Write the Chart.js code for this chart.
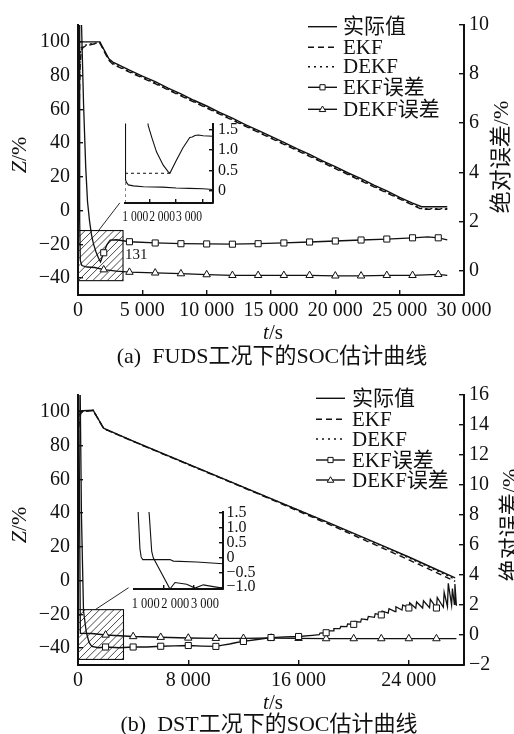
<!DOCTYPE html>
<html><head><meta charset="utf-8">
<script src="https://cdn.jsdelivr.net/npm/chart.js@4.4.1/dist/chart.umd.min.js"></script>
<style>
html,body{margin:0;padding:0;background:#fff;}
#wrap{position:relative;width:514px;height:734px;overflow:hidden;background:#fff;}
canvas{position:absolute;}
</style></head><body>
<div id="wrap">
<canvas id="c1" width="514" height="370" style="left:0;top:0"></canvas>
<canvas id="c2" width="514" height="364" style="left:0;top:370px"></canvas>
<canvas id="i1" width="150" height="125" style="left:100px;top:105px"></canvas>
<canvas id="i2" width="150" height="120" style="left:110px;top:495px"></canvas>
</div>
<script>
// ---------------- DATA: (a) FUDS ----------------
const fudsActualT = [0,1700,2400,2700,3000,4000,5000,6000,7000,8000,9000,10000,11000,12000,13000,14000,15000,16000,17000,18000,19000,20000,21000,22000,23000,24000,25000,26000,26700,28700];
const fudsActualV = [100,100,90,88,86.9,83.3,79.7,76.4,72.6,69.2,65.4,62.0,58.2,54.8,51.0,47.6,44.0,40.5,36.7,33.3,29.5,26.1,22.3,18.9,15.1,11.7,7.9,4.5,2.3,2.3];
const fudsEkfT  = [0,80,160,250,400,700,1100,1700,2400,2700,4000,6000,8000,10000,12000,14000,16000,18000,20000,22000,24000,26000,26700,28700];
const fudsEkfV  = [30,55,85,95,96.8,97.8,98.6,99.3,89,86.8,82.1,75.2,68.0,60.8,53.6,46.4,39.3,32.1,24.9,17.7,10.5,3.3,0.8,0.8];
const fudsDekfV = [40,70,92,96.5,97.5,98.3,99.0,99.6,89.3,87.2,82.5,75.6,68.4,61.2,54.0,46.8,39.7,32.5,25.3,18.1,10.9,3.7,1.2,1.2];
const fudsEkfErrT = [0,250,430,600,740,900,1050,1200,1400,1600,1750,2000,2250,2500,3000,4000,6000,8000,10000,12000,14000,16000,18000,20000,22000,24000,26000,27200,28000,28700];
const fudsEkfErrV = [60,10.5,6.8,4.2,2.8,2.0,1.45,1.08,0.75,0.5,0.35,0.72,1.05,1.24,1.25,1.17,1.12,1.09,1.08,1.07,1.09,1.12,1.16,1.2,1.24,1.28,1.33,1.37,1.33,1.25];
const fudsDekfErrT = [0,80,130,180,300,700,1300,2000,3000,4000,6000,8000,10000,12000,14000,16000,18000,20000,22000,24000,26000,28000,28700];
const fudsDekfErrV = [40,10.5,2,0.4,0.2,0.14,0.12,0.03,-0.03,-0.07,-0.1,-0.13,-0.17,-0.2,-0.2,-0.2,-0.2,-0.22,-0.22,-0.2,-0.2,-0.16,-0.2];
const fudsMarkT = [2000,4000,6000,8000,10000,12000,14000,16000,18000,20000,22000,24000,26000,28000];
const fudsXTicks = [0,5000,10000,15000,20000,25000,30000];
const fudsRTicks = [0,2,4,6,8,10];
// inset (a)
const insAEkfT = [900,963,1100,1274,1520,1700,1767,2000,2250,2507,2600,2700,2830,3000,3370];
const insAEkfV = [2.0,1.6,1.3,0.95,0.63,0.47,0.43,0.74,1.05,1.31,1.32,1.36,1.37,1.35,1.34];
const insADekfT = [100,112,126,160,226,411,781,1500,2000,2500,3000,3370];
const insADekfV = [1.7,0.6,0.27,0.2,0.145,0.12,0.1,0.09,0.07,0.06,0.05,0.03];
const insAGuideT = [100,1767];
const insAGuideV = [0.43,0.43];
const insAGuide2T = [100,100];
const insAGuide2V = [-0.3,0.25];
const insAXTicks = [1000,2000,3000];
const insAYTicks = [0,0.5,1.0,1.5];
const insAYLabels = ['0','0.5','1.0','1.5'];

// ---------------- DATA: (b) DST ----------------
const dstActualT = [0,1100,1860,2000,4000,6000,8000,10000,12000,14000,16000,18000,20000,22000,24000,26000,27360];
const dstActualV = [100.5,101,90.3,89.8,82.7,75.8,69.0,62.2,55.4,48.6,41.8,35.0,28.0,21.0,14.0,6.6,1.6];
const dstEkfT  = [0,100,200,350,1100,1860,2000,4000,6000,8000,10000,12000,14000,16000,18000,20000,22000,24000,26000,27360];
const dstEkfV  = [85,95,99,100.2,100.8,90.1,89.6,82.5,75.6,68.8,62.0,55.1,48.2,41.1,34.1,26.9,19.6,12.3,4.8,-0.4];
const dstDekfV = [92,98,100,100.4,100.9,90.2,89.7,82.6,75.7,68.9,62.1,55.3,48.5,41.6,34.7,27.7,20.6,13.5,6.0,0.8];
const dstEkfErrT = [0,150,250,400,600,800,1000,1500,2000,3000,4000,5000,6000,7000,8000,9000,10000,10500,11000,11500,12000,13000,14000,15000,16000,17000,
  17500,17560,18000,18060,18500,18560,19000,19060,19500,19560,20000,20060,20500,20560,21000,21060,21500,21560,22000,22060,22500,22560,
  23000,23060,23500,23560,24000,24060,24500,24560,25000,25060,25500,25560,26000,26060,26500,26560,26800,26860,27100,27160,27300,27340,27450];
const dstEkfErrV = [30,17,8,1.6,0.2,-0.5,-0.76,-0.85,-0.8,-0.85,-0.8,-0.8,-0.75,-0.72,-0.7,-0.74,-0.76,-0.68,-0.6,-0.5,-0.43,-0.3,-0.17,-0.12,-0.1,-0.02,
  0.03,0.13,0.15,0.27,0.28,0.42,0.42,0.58,0.56,0.74,0.71,0.9,0.86,1.07,1.02,1.24,1.18,1.42,1.34,1.6,1.46,1.75,
  1.56,1.88,1.66,2.0,1.8,2.15,1.78,2.2,1.8,2.28,1.82,2.38,1.8,2.5,1.85,2.85,1.9,3.45,2.0,3.1,2.05,3.4,1.95];
const dstDekfErrT = [0,60,170,1000,2000,4000,6000,8000,10000,12000,14000,16000,18000,20000,22000,24000,26000,27450];
const dstDekfErrV = [40,16,0.11,0.1,0.0,-0.1,-0.15,-0.2,-0.22,-0.22,-0.2,-0.22,-0.24,-0.24,-0.24,-0.24,-0.24,-0.24];
const dstMarkT = [2000,4000,6000,8000,10000,12000,14000,16000,18000,20000,22000,24000,26000];
const dstXTicks = [0,8000,16000,24000];
const dstRTicks = [-2,0,2,4,6,8,10,12,14,16];
// inset (b)
const insBEkfT = [480,516,597,650,1213,1382,1776,2056,2336,2673,2990];
const insBEkfV = [1.8,1.42,0.21,-0.01,-1.06,-0.84,-0.9,-1.03,-0.92,-0.98,-1.03];
const insBDekfT = [130,145,200,240,293,1213,1325,2113,2990];
const insBDekfV = [1.8,1.42,0.3,0.02,-0.07,-0.07,-0.12,-0.15,-0.21];
const insBXTicks = [1000,2000,3000];
const insBYTicks = [-1.0,-0.5,0,0.5,1.0,1.5];
const insBYLabels = ['−1.0','−0.5','0','0.5','1.0','1.5'];

const leftTicks = [-40,-20,0,20,40,60,80,100];
const legendNames = ['实际值','EKF','DEKF','EKF误差','DEKF误差'];

// ---------------- helpers ----------------
const FONT = "'Liberation Serif','Noto Sans CJK SC',serif";
Chart.defaults.font.family = FONT;
Chart.defaults.color = '#111';
Chart.defaults.animation = false;
const INK = '#111';

function pts(T, V){ return T.map((t,i)=>({x:t,y:V[i]})); }
function fmt(v){
  const a = Math.abs(v); let s = String(a);
  if (a >= 1000) s = s.slice(0, s.length-3) + ' ' + s.slice(-3);
  return (v < 0 ? '−' : '') + s;
}
function richText(ctx, segs, cx, cy, rot, size){
  ctx.save();
  ctx.translate(cx, cy); ctx.rotate(rot);
  ctx.textBaseline = 'middle'; ctx.fillStyle = INK;
  let w = 0;
  segs.forEach(s => { ctx.font = (s.it ? 'italic ' : '') + size + 'px ' + FONT; w += ctx.measureText(s.t).width; });
  let x = -w/2;
  segs.forEach(s => { ctx.font = (s.it ? 'italic ' : '') + size + 'px ' + FONT; ctx.textAlign='left'; ctx.fillText(s.t, x, 0); x += ctx.measureText(s.t).width; });
  ctx.restore();
}
function marker(ctx, kind, x, y, r){
  ctx.save(); ctx.setLineDash([]); ctx.fillStyle='#fff'; ctx.strokeStyle=INK; ctx.lineWidth=1;
  ctx.beginPath();
  if (kind === 'rect') ctx.rect(x-r, y-r, 2*r, 2*r);
  else { ctx.moveTo(x, y-r*1.1); ctx.lineTo(x+r*1.1, y+r*0.75); ctx.lineTo(x-r*1.1, y+r*0.75); ctx.closePath(); }
  ctx.fill(); ctx.stroke(); ctx.restore();
}

const decor = {
  id: 'decor',
  beforeDatasetsDraw(chart, args, o){
    const {ctx} = chart; const xs = chart.scales.x, ys = chart.scales.y;
    const b = o.box;
    const x0 = xs.getPixelForValue(b.x0), x1 = xs.getPixelForValue(b.x1);
    const y0 = ys.getPixelForValue(b.y1), y1 = ys.getPixelForValue(b.y0);
    const h = y1 - y0;
    ctx.save();
    ctx.beginPath(); ctx.rect(x0, y0, x1-x0, h); ctx.clip();
    ctx.strokeStyle = '#333'; ctx.lineWidth = 0.9; ctx.beginPath();
    for (let k = x0 - h; k < x1 + h; k += 7.2) { ctx.moveTo(k, y1); ctx.lineTo(k + h, y0); }
    ctx.stroke(); ctx.restore();
    ctx.save(); ctx.strokeStyle = INK; ctx.lineWidth = 1.1; ctx.strokeRect(x0, y0, x1-x0, h);
    ctx.beginPath(); ctx.lineWidth = 0.9;
    ctx.moveTo(xs.getPixelForValue(o.link[0]), ys.getPixelForValue(o.link[1]));
    ctx.lineTo(xs.getPixelForValue(o.link[2]), ys.getPixelForValue(o.link[3]));
    ctx.stroke(); ctx.restore();
  },
  afterDraw(chart, args, o){
    const {ctx} = chart;
    const L = o.legend;
    ctx.save();
    L.rows.forEach((y, i) => {
      ctx.beginPath(); ctx.strokeStyle = INK; ctx.lineWidth = 1.4;
      ctx.setLineDash(i === 1 ? [6,4] : (i === 2 ? [2,4] : []));
      ctx.moveTo(L.x0, y); ctx.lineTo(L.x1, y); ctx.stroke(); ctx.setLineDash([]);
      if (i === 3) marker(ctx, 'rect', (L.x0+L.x1)/2, y, 2.6);
      if (i === 4) marker(ctx, 'tri', (L.x0+L.x1)/2, y, 3);
      ctx.font = '21px ' + FONT; ctx.fillStyle = INK; ctx.textBaseline = 'middle'; ctx.textAlign = 'left';
      ctx.fillText(legendNames[i], L.tx, y + 1);
    });
    ctx.restore();
    const T = o.titles;
    richText(ctx, [{t:'Z', it:true},{t:'/%'}], T.lx, T.ly, -Math.PI/2, 22);
    richText(ctx, [{t:'绝对误差/%'}], T.rx, T.ry, -Math.PI/2, 22);
    richText(ctx, [{t:'t', it:true},{t:'/s'}], T.tx, T.ty, 0, 21);
    richText(ctx, [{t:T.caption}], T.cx, T.cy, 0, 22);
    if (o.note) {
      ctx.save(); ctx.font = '15px ' + FONT; ctx.fillStyle = INK; ctx.textAlign='left'; ctx.textBaseline='alphabetic';
      ctx.fillText(o.note.text, chart.scales.x.getPixelForValue(o.note.x), chart.scales.y.getPixelForValue(o.note.y));
      ctx.restore();
    }
  }
};

// inset x tick labels are horizontally condensed in the original figure:
// give the inset's tick labels a maximum drawn width (text stays real text)
const condense = {
  id: 'condense',
  beforeDraw(chart, args, o){
    const ctx = chart.ctx;
    if (ctx._origFill) return;
    ctx._origFill = ctx.fillText.bind(ctx);
    ctx.fillText = (t, x, y, mw) => {
      const s = String(t);
      if (/^\d \d{3}$/.test(s)) return ctx._origFill(s, x, y, o.width);
      return mw === undefined ? ctx._origFill(s, x, y) : ctx._origFill(s, x, y, mw);
    };
  }
};

function axisCommon(extra){
  return Object.assign({
    type: 'linear',
    grid: {drawOnChartArea:false, drawTicks:true, tickLength:-5, color:INK, lineWidth:1.4},
    border: {display:true, color:INK, width:2},
  }, extra);
}

function mainChart(id, c){
  const marks = new Set(c.markT);
  const rad = ctx => (ctx.raw && marks.has(ctx.raw.x)) ? 4.3 : 0;
  const base = {borderColor:INK, pointRadius:0, fill:false, clip:0};
  new Chart(document.getElementById(id), {
    type: 'line',
    data: {datasets: [
      Object.assign({label:legendNames[0], data:pts(c.actT,c.actV), yAxisID:'y', borderWidth:1.4}, base),
      Object.assign({label:legendNames[1], data:pts(c.ekfT,c.ekfV), yAxisID:'y', borderWidth:1.4, borderDash:[6,4]}, base),
      Object.assign({label:legendNames[2], data:pts(c.ekfT,c.dekfV), yAxisID:'y', borderWidth:1.4, borderDash:[2,3]}, base),
      Object.assign({}, base, {label:legendNames[3], data:pts(c.eErrT,c.eErrV), yAxisID:'y2', borderWidth:1.3,
        pointStyle:'rect', pointRadius:rad, pointBackgroundColor:'#fff', pointBorderColor:INK, pointBorderWidth:1}),
      Object.assign({}, base, {label:legendNames[4], data:pts(c.dErrT,c.dErrV), yAxisID:'y2', borderWidth:1.3,
        pointStyle:'triangle', pointRadius:rad, pointBackgroundColor:'#fff', pointBorderColor:INK, pointBorderWidth:1}),
    ]},
    options: {
      responsive:false, devicePixelRatio:1, animation:false,
      layout: {padding:{top:c.padTop, left:0, right:0, bottom:0}},
      scales: {
        x: axisCommon({position:'bottom', min:0, max:c.xMax,
          afterBuildTicks: s => { s.ticks = c.xTicks.map(v => ({value:v})); },
          ticks: {callback: v => fmt(v), font:{size:20}, padding:9, maxRotation:0, autoSkip:false},
          afterFit: s => { s.height = c.xH; }}),
        y: axisCommon({position:'left', min:-50, max:110,
          afterBuildTicks: s => { s.ticks = leftTicks.map(v => ({value:v})); },
          ticks: {callback: v => fmt(v), font:{size:20}, padding:13, autoSkip:false},
          afterFit: s => { s.width = 78; }}),
        y2: axisCommon({position:'right', min:c.rMin, max:c.rMax,
          afterBuildTicks: s => { s.ticks = c.rTicks.map(v => ({value:v})); },
          ticks: {callback: v => fmt(v), font:{size:20}, padding:10, autoSkip:false},
          afterFit: s => { s.width = 50; }}),
      },
      plugins: {legend:{display:false}, tooltip:{enabled:false},
        decor: {box:c.box, link:c.link, legend:c.legend, titles:c.titles, note:c.note}}
    },
    plugins: [decor]
  });
}

function insetChart(id, c){
  const base = {borderColor:INK, pointRadius:0, fill:false, clip:0, borderWidth:1.1};
  const ds = [
    Object.assign({data:pts(c.eT,c.eV)}, base),
    Object.assign({data:pts(c.dT,c.dV)}, base),
  ];
  (c.guides||[]).forEach(g => ds.push(Object.assign({data:pts(g[0],g[1])}, base, {borderDash:[3,3], borderWidth:1})));
  const labelOf = v => { const i = c.yTicks.indexOf(v); return i >= 0 ? c.yLabels[i] : ''; };
  new Chart(document.getElementById(id), {
    type:'line',
    data:{datasets:ds},
    options:{
      responsive:false, devicePixelRatio:1, animation:false,
      layout:{padding:{top:c.padT, left:c.padL, right:0, bottom:0}},
      scales:{
        x: axisCommon({position:'bottom', min:c.xMin, max:c.xMax,
          afterBuildTicks: s => { s.ticks = c.xTicks.map(v => ({value:v})); },
          grid:{drawOnChartArea:false, drawTicks:true, tickLength:-4, color:INK, lineWidth:1.4},
          ticks:{callback: v => fmt(v), font:{size:15}, padding:c.xPad, labelOffset:c.labelOffset, maxRotation:0, autoSkip:false},
          afterFit: s => { s.height = c.xH; }}),
        y: axisCommon({position:'right', min:c.yMin, max:c.yMax,
          afterBuildTicks: s => { s.ticks = c.yTicks.map(v => ({value:v})); },
          grid:{drawOnChartArea:false, drawTicks:true, tickLength:-4, color:INK, lineWidth:1.4},
          ticks:{callback: v => labelOf(v), font:{size:16}, padding:c.yPad, autoSkip:false},
          afterFit: s => { s.width = c.yW; }}),
      },
      plugins:{legend:{display:false}, tooltip:{enabled:false}, condense:{width:c.labelW}}
    },
    plugins:[condense]
  });
}

mainChart('c1', {
  actT:fudsActualT, actV:fudsActualV, ekfT:fudsEkfT, ekfV:fudsEkfV, dekfV:fudsDekfV,
  eErrT:fudsEkfErrT, eErrV:fudsEkfErrV, dErrT:fudsDekfErrT, dErrV:fudsDekfErrV, markT:fudsMarkT,
  xMax:30000, xTicks:fudsXTicks, rMin:-1, rMax:10, rTicks:fudsRTicks, padTop:17, xH:75,
  box:{x0:0, x1:3500, y0:-41.5, y1:-11.8}, link:[1600,-11.8,3250,4.6],
  note:{text:'131', x:3650, y:-28.5},
  legend:{x0:308, x1:337, tx:343, rows:[26.7,47.3,66.7,87.3,109.3]},
  titles:{lx:20, ly:155, rx:502, ry:157, tx:273, ty:333, cx:272, cy:357, caption:'(a)  FUDS工况下的SOC估计曲线'}
});
mainChart('c2', {
  actT:dstActualT, actV:dstActualV, ekfT:dstEkfT, ekfV:dstEkfV, dekfV:dstDekfV,
  eErrT:dstEkfErrT, eErrV:dstEkfErrV, dErrT:dstDekfErrT, dErrV:dstDekfErrV, markT:dstMarkT,
  xMax:28000, xTicks:dstXTicks, rMin:-2, rMax:16, rTicks:dstRTicks, padTop:17, xH:69,
  box:{x0:0, x1:3300, y0:-46.7, y1:-17.2}, link:[1250,-17.2,3670,-4.2],
  legend:{x0:316, x1:345, tx:352, rows:[28.3,49.3,69,90,110]},
  titles:{lx:20, ly:155, rx:511, ry:155, tx:273, ty:333, cx:269, cy:355, caption:'(b)  DST工况下的SOC估计曲线'}
});
insetChart('i1', {
  eT:insAEkfT, eV:insAEkfV, dT:insADekfT, dV:insADekfV,
  guides:[[insAGuideT,insAGuideV],[insAGuide2T,insAGuide2V]],
  xMin:100, xMax:3370, xTicks:insAXTicks, yMin:-0.3, yMax:1.65, yTicks:insAYTicks, yLabels:insAYLabels,
  padT:18, padL:25, yW:37, xH:27, xPad:9.5, yPad:9, labelOffset:-14, labelW:26
});
insetChart('i2', {
  eT:insBEkfT, eV:insBEkfV, dT:insBDekfT, dV:insBDekfV,
  xMin:0, xMax:3000, xTicks:insBXTicks, yMin:-1.06, yMax:1.53, yTicks:insBYTicks, yLabels:insBYLabels,
  padT:15, padL:24, yW:37, xH:26, xPad:10, yPad:7.5, labelOffset:-18, labelW:28
});
</script>
</body></html>
